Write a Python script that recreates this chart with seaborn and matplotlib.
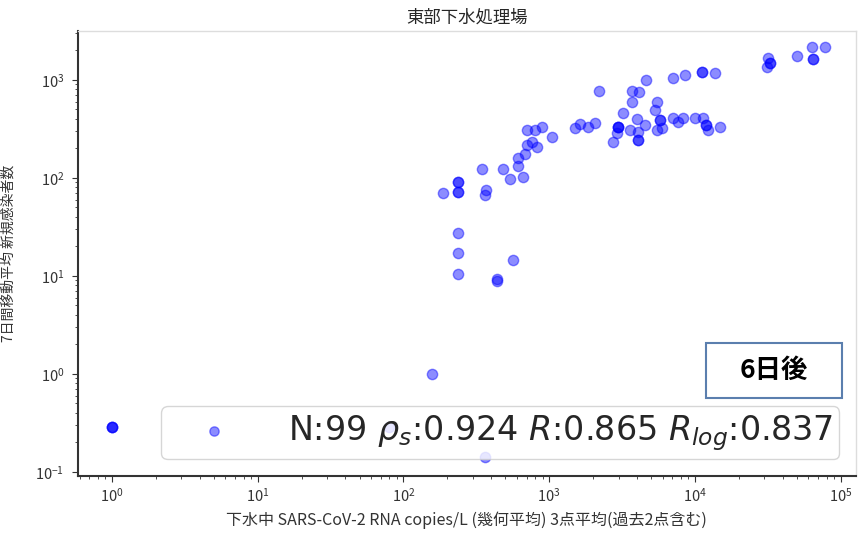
import matplotlib
matplotlib.use('Agg')
import pandas as pd
import matplotlib.pyplot as plt
import seaborn as sns
from matplotlib.patches import Rectangle

# wastewater RNA copies/L (3-point geometric mean) vs 7-day avg new cases, 6 days later
rna_copies = [
    77600, 63200, 49900, 64300, 64300, 31600, 32600, 32600, 31100, 13700,
    11100, 11100, 8510, 7040, 4600, 2190, 3690, 4120, 3690, 5470,
    5300, 3200, 3990, 4530, 5740, 5740, 5920, 7040, 7620, 8250,
    9970, 11300, 12000, 12000, 12200, 14800, 2960, 2960, 2960, 2910,
    2730, 3570, 4050, 4050, 4050, 5470, 1500, 1620, 1840, 2060,
    702, 797, 890, 1040, 702, 760, 822, 680, 609, 609,
    481, 345, 537, 659, 236, 236, 236, 236, 186, 367,
    362, 236, 236, 236, 563, 437, 437, 157, 1, 1,
    1, 79, 362,
]
new_cases = [
    2170, 2170, 1760, 1640, 1640, 1680, 1490, 1490, 1360, 1180,
    1210, 1210, 1130, 1050, 1000, 772, 772, 754, 597, 597,
    494, 461, 400, 347, 391, 391, 324, 410, 373, 410,
    410, 410, 347, 347, 309, 331, 331, 331, 331, 288,
    233, 309, 295, 244, 244, 309, 324, 356, 331, 364,
    309, 309, 331, 262, 217, 233, 207, 176, 160, 133,
    124, 124, 98, 102, 91, 91, 72, 72, 70, 75,
    67, 27.5, 17.2, 10.5, 14.6, 9.3, 8.9, 1.0, 0.286, 0.286,
    0.286, 0.286, 0.143,
]

title = "東部下水処理場"
x_label = "下水中 SARS-CoV-2 RNA copies/L (幾何平均) 3点平均(過去2点含む)"
y_label = "7日間移動平均 新規感染者数"
stats_label = r"N:99 $\rho_s$:0.924 $R$:0.865 $R_{log}$:0.837"
lag_label = "6日後"

df = pd.DataFrame({'rna': rna_copies, 'cases': new_cases})

sns.set_style('ticks')
plt.rcParams['font.family'] = ['Noto Sans CJK JP', 'DejaVu Sans']

fig = plt.figure(figsize=(8.61, 5.33), dpi=100)
ax = fig.add_axes([0.0906, 0.107, 0.9034, 0.835])

sns.scatterplot(data=df, x='rna', y='cases', ax=ax, color='blue', alpha=0.45,
                s=55, edgecolor='blue', linewidth=1.0, label=stats_label)

ax.set_xscale('log')
ax.set_yscale('log')
ax.set_xlim(0.585, 1.27e5)
ax.set_ylim(0.091, 3160)

ax.set_title(title, fontsize=12.5, pad=6)
ax.set_xlabel(x_label, fontsize=11.5, color='#333333', labelpad=5)
ax.set_ylabel(y_label, fontsize=10, color='#333333', labelpad=14)
ax.tick_params(axis='both', which='major', labelsize=10.5, colors='#333333', length=4)
ax.tick_params(axis='y', which='major', pad=6)
ax.tick_params(axis='both', which='minor', colors='#333333', length=2)

for side in ['left', 'bottom']:
    ax.spines[side].set_color('#333333')
    ax.spines[side].set_linewidth(1.5)
for side in ['top', 'right']:
    ax.spines[side].set_visible(True)
    ax.spines[side].set_color('#dddddd')
    ax.spines[side].set_linewidth(1.0)

ax.legend(loc='lower right', prop={'family': 'DejaVu Sans', 'size': 24},
          framealpha=0.8, handletextpad=0.8, handlelength=2.8, markerscale=0.9,
          borderpad=0.2)

# "6日後" label box
fig.add_artist(Rectangle((0.820, 0.253), 0.158, 0.103, transform=fig.transFigure,
                         facecolor='white', edgecolor='#5b7fae', linewidth=1.5))
fig.text(0.899, 0.305, lag_label, ha='center', va='center', fontsize=19,
         fontweight='bold', color='black')

fig.savefig('out.png', dpi=100)
